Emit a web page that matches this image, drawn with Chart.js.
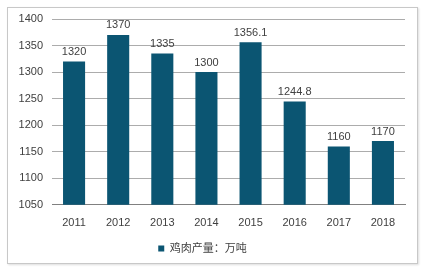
<!DOCTYPE html>
<html>
<head>
<meta charset="utf-8">
<script src="https://cdn.jsdelivr.net/npm/chart.js@4"></script>
<style>
body { margin: 0; background: #fff; }
#frame { position: absolute; left: 7px; top: 7px; width: 409px; height: 255px; border: 1px solid #c8c8c8; box-shadow: 1px 1px 2px #ddd; }
#wrap { position: absolute; left: 0; top: 0; width: 425px; height: 269px; }
</style>
</head>
<body>
<div id="frame"></div>
<div id="wrap"><canvas id="chickenChart" width="425" height="269"></canvas></div>
<script>
var years = ["2011", "2012", "2013", "2014", "2015", "2016", "2017", "2018"];
var output = [1320, 1370, 1335, 1300, 1356.1, 1244.8, 1160, 1170];
var valueLabels = ["1320", "1370", "1335", "1300", "1356.1", "1244.8", "1160", "1170"];
var yTicks = [1050, 1100, 1150, 1200, 1250, 1300, 1350, 1400];
var seriesName = "鸡肉产量：万吨";

var fontFamily = "'Liberation Sans', Arial, 'Noto Sans CJK SC', sans-serif";

// value labels above the bars
var barLabels = {
	id: 'barLabels',
	afterDatasetsDraw: function(chart) {
		var ctx = chart.ctx;
		var meta = chart.getDatasetMeta(0);
		ctx.save();
		ctx.font = "11px " + fontFamily;
		ctx.fillStyle = "#404040";
		ctx.textAlign = "center";
		ctx.textBaseline = "bottom";
		for (var i = 0; i < meta.data.length; i++)
		{
			var bar = meta.data[i];
			ctx.fillText(valueLabels[i], bar.x, bar.y - 4);
		}
		ctx.restore();
	}
};

var ctx = document.getElementById('chickenChart').getContext('2d');
var chickenChart = new Chart(ctx, {
	type: 'bar',
	data: {
		labels: years,
		datasets: [{
			label: seriesName,
			data: output,
			backgroundColor: '#0b5572',
			barPercentage: 0.5,
			categoryPercentage: 1.0
		}]
	},
	options: {
		responsive: false,
		animation: false,
		devicePixelRatio: 1,
		layout: { padding: { left: 0, right: 20, top: 19, bottom: 5 } },
		plugins: {
			tooltip: { enabled: false },
			legend: {
				position: 'bottom',
				labels: {
					boxWidth: 6,
					boxHeight: 6,
					padding: 9,
					color: '#404040',
					font: { family: fontFamily, size: 11 }
				}
			}
		},
		scales: {
			x: {
				grid: { display: false },
				border: { color: '#808080' },
				ticks: { color: '#404040', padding: 4, font: { family: fontFamily, size: 11 } }
			},
			y: {
				min: 1050,
				max: 1400,
				afterBuildTicks: function(scale) {
					scale.ticks = yTicks.map(function(v) { return { value: v }; });
				},
				afterFit: function(scale) { scale.width = 52; },
				grid: { color: '#acacac', drawTicks: false },
				border: { display: false },
				ticks: {
					color: '#404040',
					padding: 9,
					font: { family: fontFamily, size: 11 },
					callback: function(v) { return String(v); }
				}
			}
		}
	},
	plugins: [barLabels]
});
</script>
</body>
</html>
